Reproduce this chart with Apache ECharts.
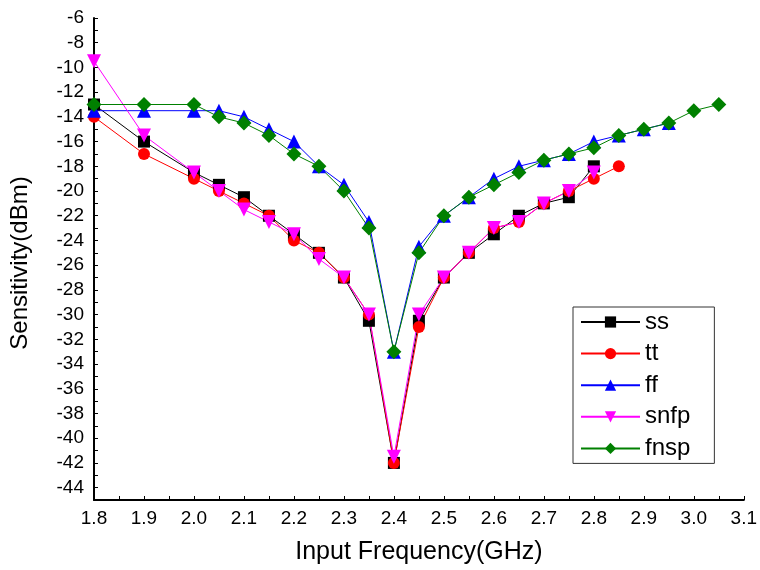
<!DOCTYPE html>
<html>
<head>
<meta charset="utf-8">
<script src="https://cdn.jsdelivr.net/npm/echarts@6/dist/echarts.min.js"></script>
<style>html,body{margin:0;padding:0;background:#fff}#c{width:760px;height:570px}</style>
</head>
<body>
<div id="c"></div>
<script>
const ssX = [1.8,1.9,2.0,2.05,2.1,2.15,2.2,2.25,2.3,2.35,2.4,2.45,2.5,2.55,2.6,2.65,2.7,2.75,2.8];
const ssY = [-13,-16,-18.5,-19.5,-20.5,-22,-23.5,-25,-27,-30.5,-42,-30.5,-27,-25,-23.5,-22,-21,-20.5,-18];
const ttX = [1.8,1.9,2.0,2.05,2.1,2.15,2.2,2.25,2.3,2.35,2.4,2.45,2.5,2.55,2.6,2.65,2.7,2.75,2.8,2.85];
const ttY = [-14,-17,-19,-20,-21,-22,-24,-25,-27,-30,-42,-31,-27,-25,-23,-22.5,-21,-20,-19,-18];
const ffX = [1.8,1.9,2.0,2.05,2.1,2.15,2.2,2.25,2.3,2.35,2.4,2.45,2.5,2.55,2.6,2.65,2.7,2.75,2.8,2.85,2.9,2.95];
const ffY = [-13.5,-13.5,-13.5,-13.5,-14,-15,-16,-18,-19.5,-22.5,-33,-24.5,-22,-20.5,-19,-18,-17.5,-17,-16,-15.5,-15,-14.5];
const snfpX = [1.8,1.9,2.0,2.05,2.1,2.15,2.2,2.25,2.3,2.35,2.4,2.45,2.5,2.55,2.6,2.65,2.7,2.75,2.8];
const snfpY = [-9.5,-15.5,-18.5,-20,-21.5,-22.5,-23.5,-25.5,-27,-30,-41.5,-30,-27,-25,-23,-22.5,-21,-20,-18.5];
const fnspX = [1.8,1.9,2.0,2.05,2.1,2.15,2.2,2.25,2.3,2.35,2.4,2.45,2.5,2.55,2.6,2.65,2.7,2.75,2.8,2.85,2.9,2.95,3.0,3.05];
const fnspY = [-13,-13,-13,-14,-14.5,-15.5,-17,-18,-20,-23,-33,-25,-22,-20.5,-19.5,-18.5,-17.5,-17,-16.5,-15.5,-15,-14.5,-13.5,-13];
const seriesNames = ['ss','tt','ff','snfp','fnsp'];

const font = '"Liberation Sans", Arial, sans-serif';
function zip(xs, ys){ return xs.map((x,i)=>[x, ys[i]]); }
function mk(name, xs, ys, color, symbol, size, rot){
  return {name, type:'line', data: zip(xs, ys), symbol, symbolSize:size, symbolRotate: rot||0,
    lineStyle:{color, width:1}, itemStyle:{color}, showAllSymbol:true, animation:false};
}
const chart = echarts.init(document.getElementById('c'));
chart.setOption({
  animation:false,
  backgroundColor:'#fff',
  grid:{left:90, right:13, top:18, bottom:66},
  xAxis:{type:'value', min:1.8, max:3.1, interval:0.05,
    name:'Input Frequency(GHz)', nameLocation:'middle', nameGap:40,
    nameTextStyle:{fontSize:25, color:'#000', fontFamily:font},
    axisLine:{lineStyle:{color:'#000', width:2}},
    axisTick:{inside:true, length:4, lineStyle:{color:'#000', width:1}},
    axisLabel:{margin:9, fontSize:19, color:'#000', fontFamily:font,
      formatter:v=>{const k=Math.round(v*100); return k%10===0 ? (k/100).toFixed(1) : '';}},
    splitLine:{show:false}},
  yAxis:{type:'value', min:-45, max:-6, interval:1,
    name:'Sensitivity(dBm)', nameLocation:'middle', nameGap:62,
    nameTextStyle:{fontSize:24, color:'#000', fontFamily:font, padding:[0,0,0,-8]},
    axisLine:{show:true, lineStyle:{color:'#000', width:2}},
    axisTick:{show:true, inside:true, length:4, lineStyle:{color:'#000', width:1}},
    axisLabel:{margin:10, fontSize:19, color:'#000', fontFamily:font,
      formatter:v=>{const k=Math.round(v); return k%2===0 ? String(k) : '';}},
    splitLine:{show:false}},
  legend:{orient:'vertical', left:573, top:307, data:seriesNames,
    itemWidth:59, itemHeight:14, itemGap:7.6, padding:[3,24,3,7],
    borderColor:'#333', borderWidth:1, borderRadius:0,
    textStyle:{fontSize:24, lineHeight:20, color:'#000', fontFamily:font}},
  series:[
    mk('ss', ssX, ssY, '#000000', 'rect', 12),
    mk('tt', ttX, ttY, '#ff0000', 'circle', 12),
    mk('ff', ffX, ffY, '#0000ff', 'triangle', 14),
    mk('snfp', snfpX, snfpY, '#ff00ff', 'triangle', 14, 180),
    mk('fnsp', fnspX, fnspY, '#008000', 'diamond', 15)
  ]
});
</script>
</body>
</html>
